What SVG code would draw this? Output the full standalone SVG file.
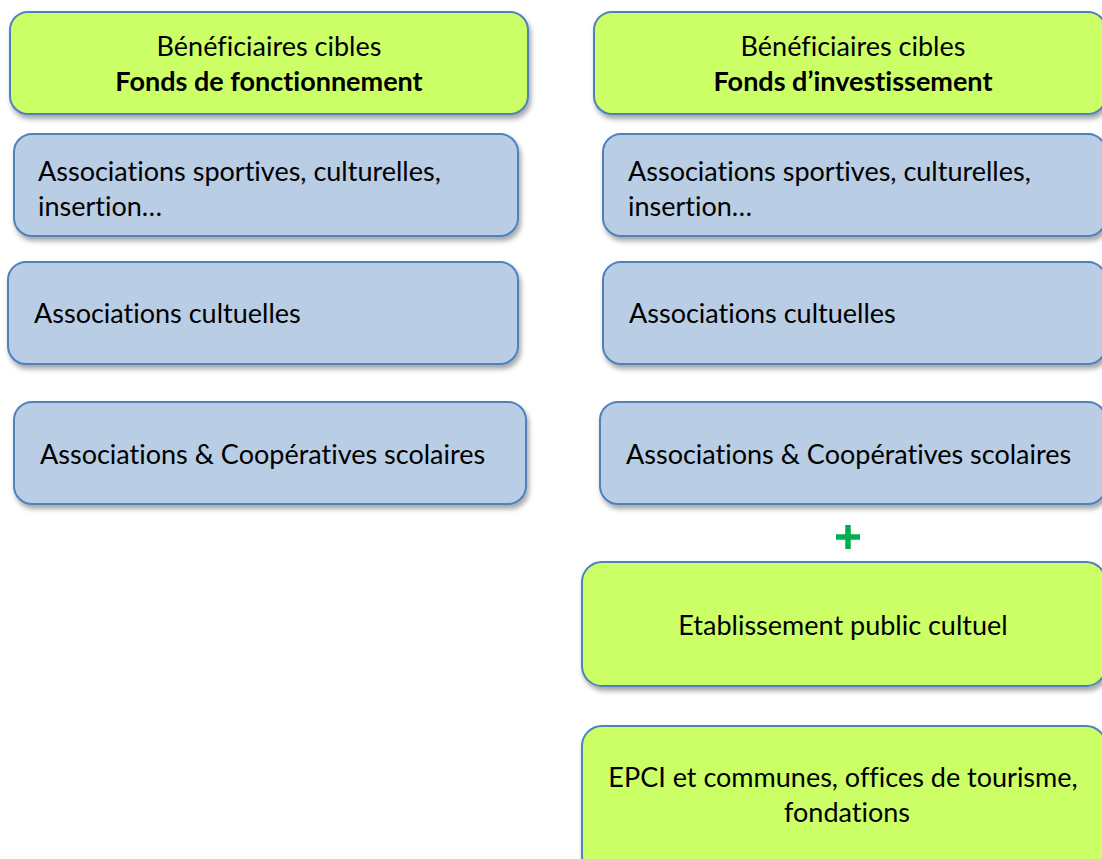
<svg xmlns="http://www.w3.org/2000/svg" width="1102" height="859" viewBox="0 0 1102 859">
<defs>
<filter id="sh" x="-5%" y="-10%" width="115%" height="130%">
<feDropShadow dx="2" dy="4" stdDeviation="2.5" flood-color="#000" flood-opacity="0.35"/>
</filter>
<style>
.g{fill:#CCFF66;stroke:#4F81BD;stroke-width:2;filter:url(#sh)}
.b{fill:#B9CDE5;stroke:#4F81BD;stroke-width:2;filter:url(#sh)}
text{font-family:Lato,"Liberation Sans",sans-serif;font-size:27px;fill:#000;font-variant-ligatures:none}
.c{text-anchor:middle}
.bold{font-weight:bold}
</style>
</defs>
<rect width="1102" height="859" fill="#fff"/>
<g id="hdr-fonct">
<rect class="g" x="10" y="12" width="518" height="102" rx="18"/>
<text class="c" x="269" y="56">Bénéficiaires cibles</text>
<text class="c bold" x="269" y="91">Fonds de fonctionnement</text>
</g>
<g id="hdr-invest">
<rect class="g" x="594" y="12" width="512" height="102" rx="18"/>
<text class="c" x="853" y="56">Bénéficiaires cibles</text>
<text class="c bold" x="853" y="91">Fonds d’investissement</text>
</g>
<g id="l-sport">
<rect class="b" x="14" y="134" width="504" height="102" rx="18"/>
<text x="38" y="181">Associations sportives, culturelles,</text>
<text x="38" y="216">insertion…</text>
</g>
<g id="r-sport">
<rect class="b" x="603" y="134" width="503" height="102" rx="18"/>
<text x="628" y="181">Associations sportives, culturelles,</text>
<text x="628" y="216">insertion…</text>
</g>
<g id="l-cultuelles">
<rect class="b" x="8" y="262" width="510" height="102" rx="18"/>
<text x="34" y="323">Associations cultuelles</text>
</g>
<g id="r-cultuelles">
<rect class="b" x="603" y="262" width="503" height="102" rx="18"/>
<text x="629" y="323">Associations cultuelles</text>
</g>
<g id="l-scolaires">
<rect class="b" x="14" y="402" width="512" height="102" rx="18"/>
<text x="40" y="464">Associations &amp; Coopératives scolaires</text>
</g>
<g id="r-scolaires">
<rect class="b" x="600" y="402" width="506" height="102" rx="18"/>
<text x="626" y="464">Associations &amp; Coopératives scolaires</text>
</g>
<g id="plus">
<path d="M836 537 H860 M848 525 V549" stroke="#00B050" stroke-width="5.5" fill="none"/>
</g>
<g id="r-etab">
<rect class="g" x="582" y="562" width="524" height="124" rx="20"/>
<text class="c" x="843" y="635">Etablissement public cultuel</text>
</g>
<g id="r-epci">
<rect class="g" x="582" y="726" width="524" height="150" rx="20"/>
<text class="c" x="843" y="787">EPCI et communes, offices de tourisme,</text>
<text class="c" x="847" y="822">fondations</text>
</g>
<g id="connectors"/>
</svg>
